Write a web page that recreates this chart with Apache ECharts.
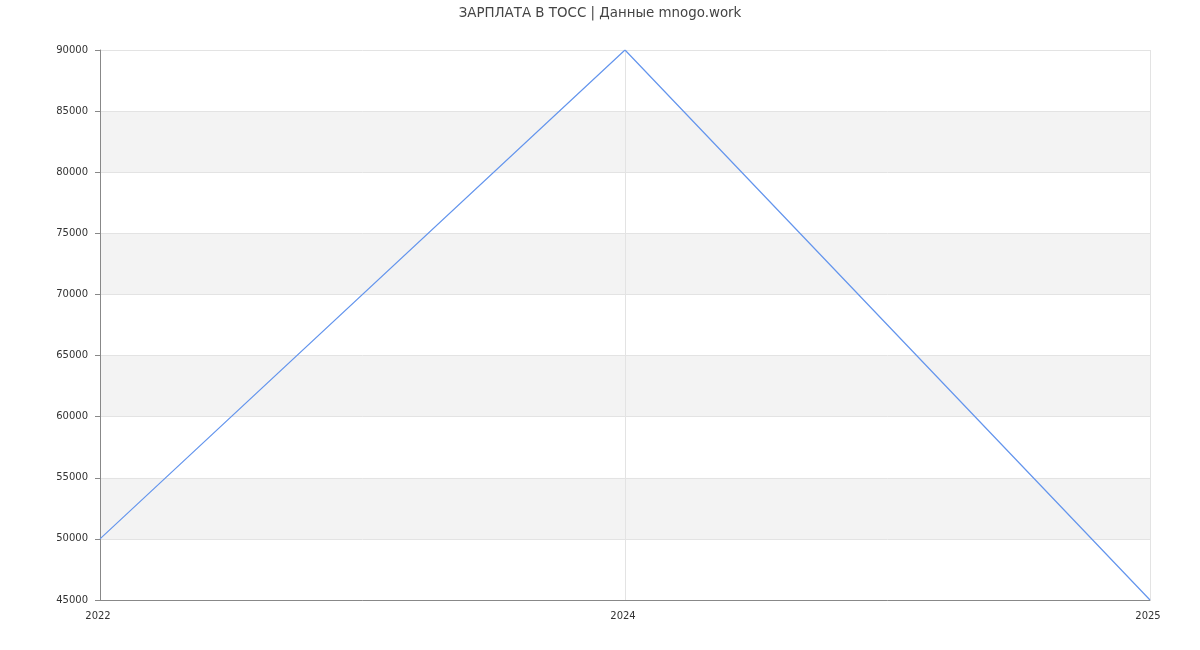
<!DOCTYPE html>
<html>
<head>
<meta charset="utf-8">
<script src="https://cdn.jsdelivr.net/npm/echarts@6/dist/echarts.min.js"></script>
<style>
html,body{margin:0;padding:0;background:#fff;}
#chart{width:1200px;height:650px;}
</style>
</head>
<body>
<div id="chart"></div>
<script>
const titleText = 'ЗАРПЛАТА В ТОСС | Данные mnogo.work';
const years = ['2022', '2024', '2025'];
const salaries = [50000, 90000, 45000];

const chart = echarts.init(document.getElementById('chart'), null, {renderer: 'canvas'});
chart.setOption({
  backgroundColor: '#ffffff',
  animation: false,
  textStyle: {fontFamily: 'DejaVu Sans'},
  title: {
    text: titleText,
    left: 'center',
    top: 2,
    padding: [5, 9, 5, 5],
    textStyle: {fontFamily: 'DejaVu Sans', fontSize: 13.4, fontWeight: 'normal', color: '#444444'}
  },
  grid: {left: 100, right: 50, top: 50, bottom: 50, containLabel: false},
  xAxis: {
    type: 'category',
    data: years,
    boundaryGap: false,
    axisLine: {show: true, lineStyle: {color: '#888888', width: 1}},
    axisTick: {show: false},
    axisLabel: {color: '#333333', fontSize: 10, fontFamily: 'DejaVu Sans', margin: 11, padding: [0, 4, 0, 0]},
    splitLine: {show: true, lineStyle: {color: '#e3e3e3', width: 1}}
  },
  yAxis: {
    type: 'value',
    min: 45000,
    max: 90000,
    interval: 5000,
    axisLine: {show: true, lineStyle: {color: '#888888', width: 1}},
    axisTick: {show: true, length: 5, lineStyle: {color: '#888888'}},
    axisLabel: {color: '#333333', fontSize: 10, fontFamily: 'DejaVu Sans', margin: 12,
      formatter: function (v) { return String(v); }},
    splitLine: {show: true, lineStyle: {color: '#e3e3e3', width: 1}},
    splitArea: {show: true, areaStyle: {color: ['#ffffff', '#f3f3f3']}}
  },
  series: [{
    type: 'line',
    data: salaries,
    showSymbol: false,
    symbol: 'none',
    lineStyle: {color: '#6495ED', width: 1.2},
    itemStyle: {color: '#6495ED'}
  }]
});
</script>
</body>
</html>
